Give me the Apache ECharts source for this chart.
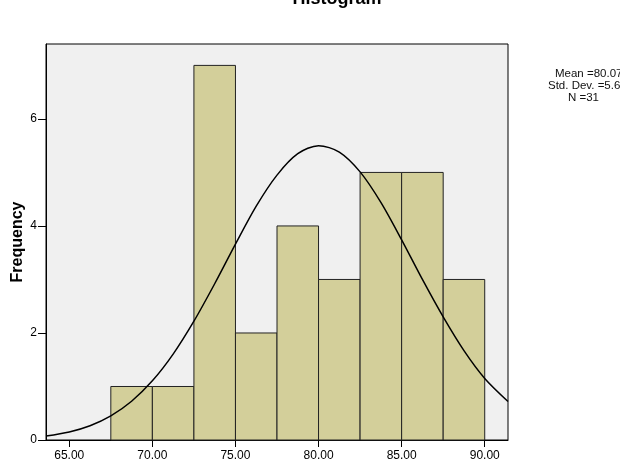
<!DOCTYPE html>
<html>
<head>
<meta charset="utf-8">
<script src="https://cdn.jsdelivr.net/npm/echarts@6/dist/echarts.min.js"></script>
<style>
html,body{margin:0;padding:0;background:#fff;}
#main{width:620px;height:476px;}
</style>
</head>
<body>
<div id="main"></div>
<script>
// histogram bins (start/end) and frequencies
var binStart = [67.5, 70, 72.5, 75, 77.5, 80, 82.5, 85, 87.5];
var binEnd = [70, 72.5, 75, 77.5, 80, 82.5, 85, 87.5, 90];
var counts = [1, 1, 7, 2, 4, 3, 5, 5, 3];
// normal curve
var curveX = [63.6, 65, 66.25, 67.5, 68.75, 70, 71.25, 72.5, 73.75, 75, 76.25, 77.5, 78.75, 80, 81.25, 82.5, 83.75, 85, 86.25, 87.5, 88.75, 90, 91.4];
var curveY = [0.075, 0.151, 0.267, 0.451, 0.724, 1.105, 1.605, 2.22, 2.92, 3.66, 4.37, 4.95, 5.35, 5.50, 5.38, 5.01, 4.44, 3.74, 3.00, 2.30, 1.67, 1.15, 0.72];
var xTicks = [65, 70, 75, 80, 85, 90];
var yTicks = [0, 2, 4, 6];
var statLines = ['Mean =80.07', 'Std. Dev. =5.62', 'N =31'];
var statLeft = [555, 548, 568];

var barData = [];
for (var i = 0; i < counts.length; i++) {
    barData.push([binStart[i], binEnd[i], counts[i]]);
}
var lineData = [];
for (var j = 0; j < curveX.length; j++) {
    lineData.push([curveX[j], curveY[j]]);
}

var myChart = echarts.init(document.getElementById('main'));
var font = 'Liberation Sans, Arial, sans-serif';

// stats box text, one line per element
var statGraphics = [];
for (var k = 0; k < statLines.length; k++) {
    statGraphics.push({
        type: 'text',
        style: {
            text: statLines[k],
            x: statLeft[k],
            y: 74 + k * 12,
            textAlign: 'left',
            textVerticalAlign: 'middle',
            font: '11.5px ' + font,
            fill: '#111'
        }
    });
}

var option = {
    animation: false,
    title: {
        text: 'Histogram',
        left: 332,
        textAlign: 'center',
        top: -15,
        textStyle: {fontFamily: font, fontSize: 18, fontWeight: 'bold', color: '#000'}
    },
    graphic: statGraphics,
    grid: {
        left: 46, right: 112, top: 44, bottom: 36,
        outerBoundsMode: 'none',
        show: true,
        backgroundColor: '#f0f0f0',
        borderColor: '#000',
        borderWidth: 1
    },
    xAxis: {
        type: 'value',
        min: 63.6,
        max: 91.4,
        splitLine: {show: false},
        axisLine: {lineStyle: {color: '#000'}},
        axisTick: {show: true, length: 7, customValues: xTicks, lineStyle: {color: '#000'}},
        axisLabel: {
            customValues: xTicks,
            color: '#000', fontFamily: font, fontSize: 12, margin: 10,
            formatter: function (v) { return v.toFixed(2); }
        }
    },
    yAxis: {
        type: 'value',
        min: 0,
        max: 7.4,
        name: 'Frequency',
        nameLocation: 'middle',
        nameGap: 20,
        nameMoveOverlap: false,
        nameTextStyle: {fontFamily: font, fontSize: 16, fontWeight: 'bold', color: '#000'},
        splitLine: {show: false},
        axisLine: {show: true, lineStyle: {color: '#000'}},
        axisTick: {show: true, length: 8, customValues: yTicks, lineStyle: {color: '#000'}},
        axisLabel: {customValues: yTicks, color: '#000', fontFamily: font, fontSize: 12, margin: 9}
    },
    series: [
        {
            type: 'custom',
            data: barData,
            encode: {x: [0, 1], y: 2},
            renderItem: function (params, api) {
                var p0 = api.coord([api.value(0), api.value(2)]);
                var p1 = api.coord([api.value(1), 0]);
                return {
                    type: 'rect',
                    shape: {x: p0[0], y: p0[1], width: p1[0] - p0[0], height: p1[1] - p0[1]},
                    style: {fill: '#d3cf9a', stroke: '#222', lineWidth: 1}
                };
            }
        },
        {
            type: 'line',
            data: lineData,
            smooth: 0.3,
            symbol: 'none',
            lineStyle: {color: '#000', width: 1.5},
            z: 5
        }
    ]
};
myChart.setOption(option);
</script>
</body>
</html>
